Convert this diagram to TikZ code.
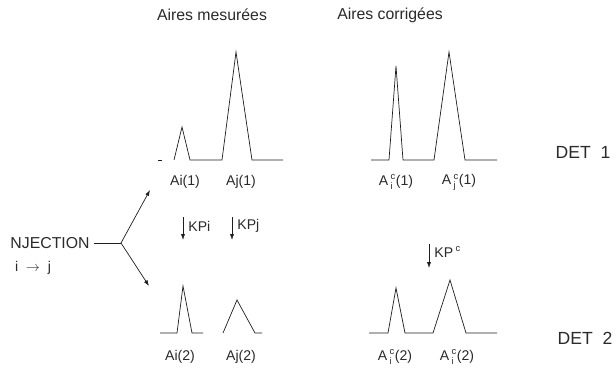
\documentclass[tikz,border=0pt]{standalone}
\usepackage{fontspec}
\usepackage{amsmath}
\setmainfont{Liberation Sans}
\definecolor{inkLine}{HTML}{1E1E1E}
\definecolor{inkText}{HTML}{2A2A2A}
\usetikzlibrary{arrows.meta, positioning}

\begin{document}
\begin{tikzpicture}[x=0.03cm, y=-0.03cm,
    peak/.style={draw=inkLine, line width=0.6pt},
    lbl/.style={text=inkText, font=\fontsize{12}{14}\selectfont, inner sep=1pt},
    ttl/.style={text=inkText, font=\fontsize{13.5}{15}\selectfont},
    det/.style={text=inkText, font=\fontsize{15}{17}\selectfont},
    flow/.style={draw=inkLine, line width=0.6pt, -{Latex[length=5pt,width=3.5pt]}}]
        \useasboundingbox (0,0) rectangle (616,379);

        % column titles
        \node[ttl] (titleMes) at (212,15) {Aires mesurées};
        \node[ttl] (titleCor) at (390,15) {Aires corrigées};

        % measured areas, detector 1
        \draw[peak] (158,160) -- (162,160);
        \draw[peak] (174,160) -- (182,127) -- (190,160) -- (222,160) -- (236,52) -- (252,160) -- (283,160);
        \node[lbl] (ai1) at (185,182) {Ai(1)};
        \node[lbl] (aj1) at (241,182) {Aj(1)};

        % corrected areas, detector 1
        \draw[peak] (371,160) -- (389,160) -- (396,66) -- (403,160) -- (434,160) -- (449,52) -- (465,160) -- (497,160);
        \node[lbl] (aci1) at (396,182) {A\,$^{\text{c}}_{\text{i}}$(1)};
        \node[lbl] (acj1) at (459,182) {A\,$^{\text{c}}_{\text{j}}$(1)};
        \node[det] (det1) at (583,152) {DET\ \ 1};

        % correction factors
        \coordinate (kpiTop) at (183,217);
        \coordinate (kpiBot) at (183,240);
        \draw[flow] (kpiTop) -- (kpiBot);
        \node[lbl, anchor=west] (kpi) at (187,226) {KPi};
        \coordinate (kpjTop) at (232,217);
        \coordinate (kpjBot) at (232,240);
        \draw[flow] (kpjTop) -- (kpjBot);
        \node[lbl, anchor=west] (kpj) at (236,226) {KPj};
        \coordinate (kpcTop) at (429,244);
        \coordinate (kpcBot) at (429,268);
        \draw[flow] (kpcTop) -- (kpcBot);
        \node[lbl, anchor=west] (kpc) at (433,252) {KP\,$^{\text{c}}$};

        % injection fork
        \node[lbl, font=\fontsize{13.5}{15}\selectfont] (inj) at (50,243) {NJECTION};
        \node[lbl] (dir) at (33,268) {i\ \ $\to$\ \ j};
        \coordinate (fork) at (121,243);
        \coordinate (upTip) at (150,190);
        \coordinate (downTip) at (149,286);
        \draw[peak] ([xshift=3pt]inj.east) -- (fork);
        \draw[flow] (fork) -- (upTip);
        \draw[flow] (fork) -- (downTip);

        % measured areas, detector 2
        \draw[peak] (160,333) -- (177,333) -- (183,286) -- (192,333) -- (203,333);
        \draw[peak] (223,333) -- (237,300) -- (255,333) -- (262,333);
        \node[lbl] (ai2) at (180,357) {Ai(2)};
        \node[lbl] (aj2) at (241,357) {Aj(2)};

        % corrected areas, detector 2
        \draw[peak] (369,333) -- (388,333) -- (396,288) -- (405,333) -- (433,333) -- (450,280) -- (466,333) -- (497,333);
        \node[lbl] (aci2) at (395,357) {A\,$^{\text{c}}_{\text{i}}$(2)};
        \node[lbl] (acj2) at (457,357) {A\,$^{\text{c}}_{\text{i}}$(2)};
        \node[det] (det2) at (585,338) {DET\ \ 2};
      \end{tikzpicture}
\end{document}
